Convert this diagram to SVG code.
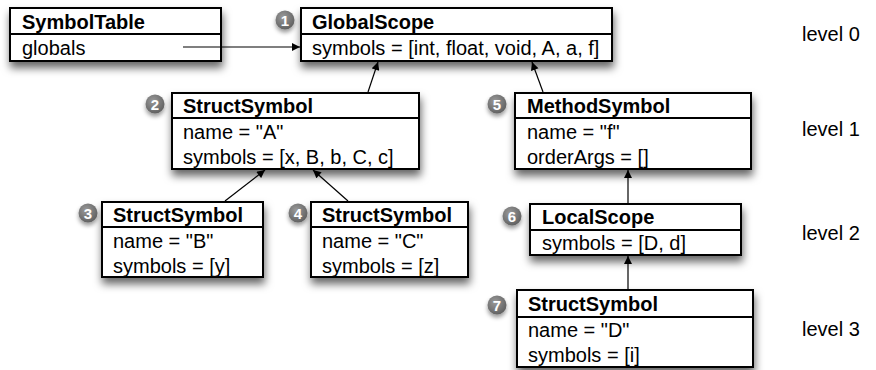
<svg xmlns="http://www.w3.org/2000/svg" width="876" height="370" viewBox="0 0 876 370">
<defs>
<filter id="sh" x="-20%" y="-30%" width="140%" height="180%">
<feDropShadow dx="1" dy="6" stdDeviation="4" flood-color="#000" flood-opacity="0.6"/>
</filter>
<filter id="bsh" x="-50%" y="-50%" width="200%" height="200%">
<feDropShadow dx="0" dy="3" stdDeviation="2" flood-color="#000" flood-opacity="0.4"/>
</filter>
<radialGradient id="bg" cx="40%" cy="35%" r="70%">
<stop offset="0" stop-color="#9a9a9a"/>
<stop offset="1" stop-color="#5e5e5e"/>
</radialGradient>
<marker id="ah" viewBox="0 0 10 10" refX="10" refY="5" markerWidth="9" markerHeight="8" markerUnits="userSpaceOnUse" orient="auto">
<path d="M0,0 L10,5 L0,10 z" fill="#000"/>
</marker>
</defs>
<style>
.box{fill:#fff;stroke:#000;stroke-width:2;filter:url(#sh)}
.div{stroke:#000;stroke-width:2}
.t{font-family:"Liberation Sans",Arial,Helvetica,sans-serif;font-size:20px;fill:#000}
.h{font-weight:bold}
.badge circle{fill:url(#bg);filter:url(#bsh)}
.badge text{font-family:"Liberation Sans",Arial,sans-serif;font-size:15px;font-weight:bold;fill:#fff;text-anchor:middle}
.conn line{stroke:#000;stroke-width:1.2;marker-end:url(#ah)}
.lvl{font-family:"Liberation Sans",Arial,Helvetica,sans-serif;font-size:20px;fill:#000}
</style>
<rect width="876" height="370" fill="#fff"/>

<g id="SymbolTable">
<rect class="box" x="10" y="8" width="211" height="53"/>
<line class="div" x1="10" y1="34" x2="221" y2="34"/>
<text class="t h" x="22" y="29">SymbolTable</text>
<text class="t" x="22" y="55">globals</text>
</g>

<g id="GlobalScope">
<rect class="box" x="301" y="8" width="311" height="53"/>
<line class="div" x1="301" y1="34" x2="612" y2="34"/>
<text class="t h" x="312" y="29">GlobalScope</text>
<text class="t" x="312" y="55">symbols = [int, float, void, A, a, f]</text>
<g class="badge"><circle cx="285" cy="20" r="9.5"/><text x="285" y="25.5">1</text></g>
</g>

<g id="StructSymbolA">
<rect class="box" x="172" y="93" width="247" height="76"/>
<line class="div" x1="172" y1="118" x2="419" y2="118"/>
<text class="t h" x="183" y="113">StructSymbol</text>
<text class="t" x="183" y="139">name = "A"</text>
<text class="t" x="183" y="164">symbols = [x, B, b, C, c]</text>
<g class="badge"><circle cx="155" cy="104" r="9.5"/><text x="155" y="109.5">2</text></g>
</g>

<g id="MethodSymbol">
<rect class="box" x="515" y="93" width="236" height="76"/>
<line class="div" x1="515" y1="118" x2="751" y2="118"/>
<text class="t h" x="527" y="113">MethodSymbol</text>
<text class="t" x="527" y="139">name = "f"</text>
<text class="t" x="527" y="164">orderArgs = []</text>
<g class="badge"><circle cx="497" cy="104" r="9.5"/><text x="497" y="109.5">5</text></g>
</g>

<g id="StructSymbolB">
<rect class="box" x="102" y="202" width="161" height="75"/>
<line class="div" x1="102" y1="227" x2="263" y2="227"/>
<text class="t h" x="113" y="222">StructSymbol</text>
<text class="t" x="113" y="248">name = "B"</text>
<text class="t" x="113" y="273">symbols = [y]</text>
<g class="badge"><circle cx="88" cy="213" r="9.5"/><text x="88" y="218.5">3</text></g>
</g>

<g id="StructSymbolC">
<rect class="box" x="311" y="202" width="157" height="75"/>
<line class="div" x1="311" y1="227" x2="468" y2="227"/>
<text class="t h" x="322" y="222">StructSymbol</text>
<text class="t" x="322" y="248">name = "C"</text>
<text class="t" x="322" y="273">symbols = [z]</text>
<g class="badge"><circle cx="298" cy="213" r="9.5"/><text x="298" y="218.5">4</text></g>
</g>

<g id="LocalScope">
<rect class="box" x="530" y="204" width="211" height="51"/>
<line class="div" x1="530" y1="230" x2="741" y2="230"/>
<text class="t h" x="542" y="224">LocalScope</text>
<text class="t" x="542" y="250">symbols = [D, d]</text>
<g class="badge"><circle cx="512" cy="216" r="9.5"/><text x="512" y="221.5">6</text></g>
</g>

<g id="StructSymbolD">
<rect class="box" x="517" y="290" width="236" height="77"/>
<line class="div" x1="517" y1="317" x2="753" y2="317"/>
<text class="t h" x="528" y="311">StructSymbol</text>
<text class="t" x="528" y="337">name = "D"</text>
<text class="t" x="528" y="362">symbols = [i]</text>
<g class="badge"><circle cx="497" cy="305" r="9.5"/><text x="497" y="310.5">7</text></g>
</g>

<g id="connectors" class="conn">
<line x1="183" y1="47" x2="300" y2="47"/>
<line x1="368" y1="92" x2="378" y2="62"/>
<line x1="543" y1="92" x2="532" y2="62"/>
<line x1="225" y1="201" x2="265" y2="170"/>
<line x1="348" y1="201" x2="313" y2="170"/>
<line x1="628" y1="203" x2="628" y2="170"/>
<line x1="628" y1="289" x2="628" y2="256"/>
</g>

<g id="levels">
<text class="lvl" x="802" y="41">level 0</text>
<text class="lvl" x="802" y="136">level 1</text>
<text class="lvl" x="802" y="240">level 2</text>
<text class="lvl" x="802" y="336">level 3</text>
</g>
</svg>
